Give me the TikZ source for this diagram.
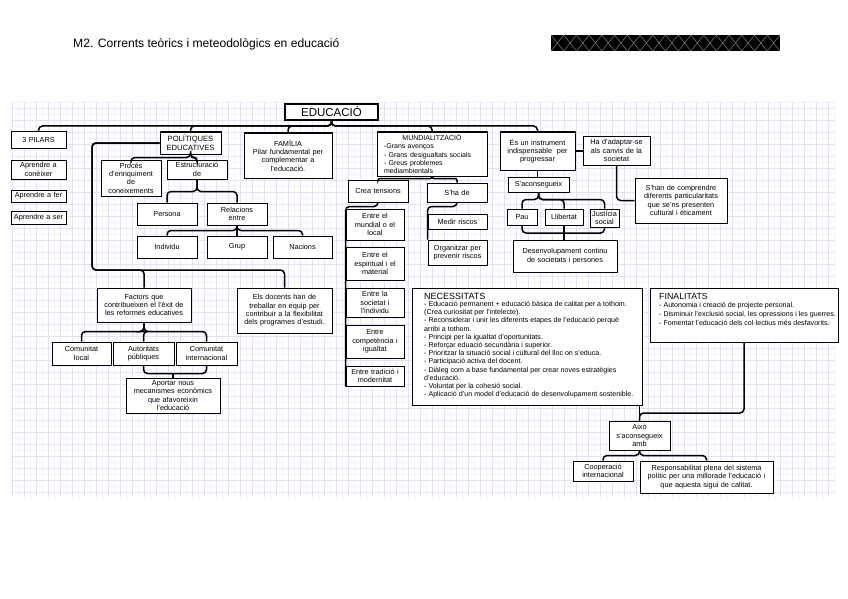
\documentclass[tikz,border=0pt]{standalone}
\usepackage{fontspec}
\setmainfont{Liberation Sans}
\definecolor{gridmaj}{RGB}{226,226,246}
\definecolor{gridmin}{RGB}{243,243,251}
\newcommand{\fsz}{\fontsize{7.3}{8.4}\selectfont}
\tikzset{
  box/.style={draw=black, line width=1pt, fill=white, inner xsep=1pt, inner ysep=0pt, align=center, font=\fsz},
  conn/.style={line width=1.5pt, rounded corners=4pt},
  listtext/.style={anchor=north west, inner sep=0, align=left},
}
\newcommand{\bx}[7][]{%
  \pgfmathsetmacro\bxw{#5-#3}%
  \pgfmathsetmacro\bxh{#6-#4}%
  \pgfmathsetmacro\bxtw{#5-#3-3}%
  \pgfmathsetmacro\bxcx{(#3+#5)/2}%
  \pgfmathsetmacro\bxcy{(#4+#6)/2}%
  \node[box, minimum width=\bxw pt, minimum height=\bxh pt, text width=\bxtw pt, #1] (#2) at (\bxcx,\bxcy) {#7};}
\begin{document}
\begin{tikzpicture}[x=1pt,y=-1pt]
\useasboundingbox (0,0) rectangle (848,599);
\fill[white] (0,0) rectangle (848,599);
% grid
\draw[gridmin, line width=0.4pt, step=6pt] (12,102) grid (834,497);
\draw[gridmaj, line width=0.5pt, step=12pt] (12,102) grid (834,497);
% header
\node[anchor=base west, inner sep=0, font=\fontsize{12.1}{13}\selectfont] (title) at (73,48) {M2. Corrents teòrics i meteodològics en educació};
\fill[black] (551,35) rectangle (780,51);
\foreach \i in {0,...,17} {
  \draw[gray, line width=0.5pt] ({551+\i*12.722},35) -- ({551+(\i+1)*12.722},51);
  \draw[gray, line width=0.5pt] ({551+\i*12.722},51) -- ({551+(\i+1)*12.722},35);
}
% boxes
\bx[font=\fontsize{11.5}{12}\selectfont, line width=1.2pt]{edu}{285}{104}{378}{120}{EDUCACIÓ}
\bx{p3}{11}{132}{66}{148}{3 PILARS}
\bx{apc}{11}{160}{66}{179}{Aprendre a\\conèixer}
\bx{apf}{11}{190}{66}{202}{Aprendre a fer}
\bx{aps}{11}{211}{66}{224}{Aprendre a ser}
\bx[font=\fontsize{7.6}{8.6}\selectfont]{pol}{160}{132}{221}{154}{POLÍTIQUES\\EDUCATIVES}
\bx{proc}{101}{160}{161}{196}{Procés\\d'enriquiment\\de\\coneixements}
\bx{estr}{167}{160}{227}{179}{Estructuració\\de}
\bx{pers}{137}{203}{197}{225}{Persona}
\bx{rel}{207}{203}{267}{225}{Relacions\\entre}
\bx{ind}{137}{236}{197}{258}{Individu}
\bx{grup}{207}{236}{267}{258}{Grup}
\bx{nac}{273}{236}{332}{258}{Nacions}
\bx{fam}{244}{133}{332}{178}{FAMÍLIA\\Pilar fundamental per\\complementar a\\l'educació.}
\bx[align=left, inner xsep=6pt, text width=96pt, font=\fontsize{7}{8.3}\selectfont]{mund}{377}{132}{487}{176}{\makebox[\linewidth]{MUNDIALITZACIÓ}\\-Grans avenços\\- Grans desigualtats socials\\- Greus problemes\\mediambientals}
\bx{crea}{348}{180}{408}{202}{Crea tensions}
\bx{shade}{427}{183}{487}{202}{S'ha de}
\bx{t1}{346}{209}{404}{240}{Entre el\\mundial o el\\local}
\bx{t2}{346}{247}{404}{280}{Entre el\\espiritual i el\\material}
\bx{t3}{346}{288}{404}{317}{Entre la\\societat i\\l'individu}
\bx{t4}{346}{325}{404}{358}{Entre\\competència i\\igualtat}
\bx{t5}{346}{366}{404}{386}{Entre tradició i\\modernitat}
\bx{med}{428}{214}{487}{229}{Medir riscos}
\bx{org}{428}{240}{487}{265}{Organitzar per\\prevenir riscos}
\bx{exu}{500}{132}{575}{170}{És un instrument\\indispensable~ per\\progressar}
\bx{ada}{583}{136}{650}{165}{Ha d'adaptar-se\\als canvis de la\\societat}
\bx{saco}{508}{177}{569}{192}{S'aconsegueix}
\bx{shan}{635}{178}{727}{223}{S'han de comprendre\\diferents particularitats\\que se'ns presenten\\cultural i èticament}
\bx{pau}{507}{209}{537}{225}{Pau}
\bx{llib}{545}{209}{583}{225}{Llibertat}
\bx{just}{590}{209}{619}{227}{Justícia\\social}
\bx{des}{513}{240}{617}{272}{Desenvolupament continu\\de societats i persones}
\bx{fac}{97}{288}{191}{322}{Factors que\\contribueixen el l'èxit de\\les reformes educatives}
\bx{doc}{237}{288}{332}{333}{Els docents han de\\treballar en equip per\\contribuir a la flexibilitat\\dels programes d'estudi.}
\bx{cl}{52}{342}{111}{365}{Comunitat\\local}
\bx{ap}{113}{342}{174}{365}{Autoritats\\públiques}
\bx{ci}{176}{342}{237}{365}{Comunitat\\internacional}
\bx{aport}{126}{378}{220}{413}{Aportar nous\\mecanismes econòmics\\que afavoreixin\\l'educació}
\bx{nec}{412}{288}{642}{405}{}
\node[anchor=base west, inner sep=0, font=\fontsize{9}{10}\selectfont] (nech) at (424,299) {NECESSITATS};
\node[listtext, font=\fontsize{7.1}{8.2}\selectfont] (necl) at (424,301) {%
- Educació permanent + educació bàsica de calitat per a tothom.\\
(Crea curiositat per l'intelecte).\\
- Reconsiderar i unir les diferents etapes de l'educació perquè\\
arribi a tothom.\\
- Principi per la igualtat d'oportunitats.\\
- Reforçar eduació secundària i superior.\\
- Prioritzar la situació social i cultural del lloc on s'educa.\\
- Participació activa del docent.\\
- Diàleg com a base fundamental per crear noves estratègies\\
d'educació.\\
- Voluntat per la cohesió social.\\
- Aplicació d'un model d'educació de desenvolupament sostenible.};
\bx{fin}{650}{288}{838}{342}{}
\node[anchor=base west, inner sep=0, font=\fontsize{8.8}{10}\selectfont] (finh) at (659,299) {FINALITATS};
\node[listtext, font=\fontsize{7.1}{8.6}\selectfont] (finl) at (659,302.5) {%
- Autonomia i creació de projecte personal.\\
- Disminuir l'exclusió social, les opressions i les guerres.\\
- Fomentar l'educació dels col·lectius més desfavorits.};
\bx{aixo}{609}{421}{670}{450}{Això\\s'aconsegueix\\amb}
\bx{coop}{573}{461}{633}{481}{Cooperació\\internacional}
\bx{resp}{640}{461}{773}{493}{Responsabilitat plena del sistema\\polític per una millorade l'educació i\\que aquesta sigui de calitat.}
% connectors
\coordinate (busy) at (0,126);
\foreach \c in {p3,pol,fam,mund,exu}
  \draw[conn] (edu.south) -- (edu.south |- busy) -| (\c.north);
\coordinate (polc) at (92,270);
\draw[conn] (pol.west) -| (polc) -| (fac.north);
\draw[conn] (pol.west) -| (polc) -| (doc.north);
\draw[conn] (pol.south) -- ++(0,3) -| (proc.north);
\draw[conn] (pol.south) -- ++(0,3) -| (estr.north);
\draw[conn] (estr.south) -- ++(0,12) -| (pers.north);
\draw[conn] (estr.south) -- ++(0,12) -| (rel.north);
\foreach \c in {ind,grup,nac}
  \draw[conn] (rel.south) -- ++(0,5) -| (\c.north);
\foreach \c in {cl,ap,ci}
  \draw[conn] (fac.south) -- ++(0,9) -| (\c.north);
\draw[conn] (ap.south) -- ++(0,8) -| (ci.south);
\draw[conn] (aport.north) -- ++(0,-5);
\draw[conn, rounded corners=2pt] (mund.south) -- ++(0,2) -| (crea.north);
\draw[conn, rounded corners=2pt] (mund.south) -- ++(0,2) -| (shade.north);
\draw[conn] (crea.south) -- ++(0,4) -| (t5.south west);
\draw[conn] (shade.south) -- ++(0,4) -| (org.north west);
\draw[conn] (exu.east) -- (exu.east -| ada.west);
\draw[conn] (exu.south) -- (exu.south |- saco.north);
\draw[conn] (ada.south) |- (shan.west);
\foreach \c in {pau,llib,just}
  \draw[conn] (saco.south) -- ++(0,7) -| (\c.north);
\coordinate (desb) at (565,233);
\draw[conn] (pau.south) |- (desb) -| (just.south);
\draw[conn] (llib.south) -- (llib.south |- des.north);
\coordinate (fbus) at (0,413);
\draw[conn] (fin.south) |- (aixo.north |- fbus) -- (aixo.north);
\draw[conn] (aixo.north |- nec.south) -- (aixo.north);
\foreach \c in {coop,resp}
  \draw[conn] (aixo.south) -- ++(0,5) -| (\c.north);
\end{tikzpicture}
\end{document}
